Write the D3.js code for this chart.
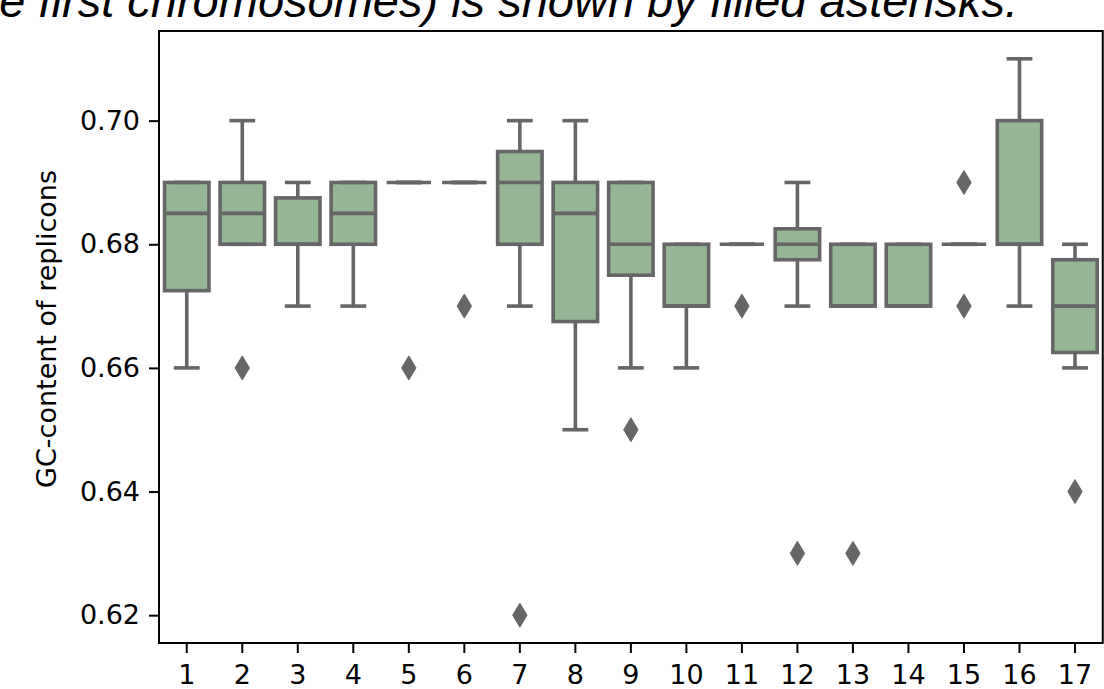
<!DOCTYPE html>
<html><head><meta charset="utf-8">
<script src="https://cdn.jsdelivr.net/npm/d3@7"></script>
<style>body{margin:0;background:#fff}svg{display:block}</style>
</head><body>
<script>
const categories = ["1","2","3","4","5","6","7","8","9","10","11","12","13","14","15","16","17"];
const whiskerLow  = [0.66, 0.68, 0.67, 0.67, 0.69, 0.69, 0.67, 0.65, 0.66, 0.66, 0.68, 0.67, 0.67, 0.67, 0.68, 0.67, 0.66];
const q1          = [0.6725,0.68, 0.68, 0.68, 0.69, 0.69, 0.68, 0.6675,0.675,0.67, 0.68, 0.6775,0.67,0.67, 0.68, 0.68, 0.6625];
const medians     = [0.685, 0.685,0.68, 0.685,0.69, 0.69, 0.69, 0.685, 0.68, 0.67, 0.68, 0.68, 0.67, 0.67, 0.68, 0.68, 0.67];
const q3          = [0.69,  0.69, 0.6875,0.69,0.69, 0.69, 0.695,0.69,  0.69, 0.68, 0.68, 0.6825,0.68,0.68, 0.68, 0.70, 0.6775];
const whiskerHigh = [0.69,  0.70, 0.69, 0.69, 0.69, 0.69, 0.70, 0.70,  0.69, 0.68, 0.68, 0.69, 0.68, 0.68, 0.68, 0.71, 0.68];
const outliers    = [[], [0.66], [], [], [0.66], [0.67], [0.62], [], [0.65], [], [0.67], [0.63], [0.63], [], [0.69,0.67], [], [0.64]];
const yTicks = [0.62, 0.64, 0.66, 0.68, 0.70];
const yLabel = "GC-content of replicons";
const titleText = "e first chromosomes) is shown by filled asterisks.";

const W = 1104, H = 689;
const mLeft = 159, mRight = 1102.75, mTop = 31, mBottom = 643;
const svg = d3.select("body").append("svg").attr("width", W).attr("height", H);

const x = d3.scaleBand().domain(categories).range([mLeft, mRight]).padding(0);
const y = d3.scaleLinear().domain([0.6155, 0.7145]).range([mBottom, mTop]);

const lineCol = "#666666", fillCol = "#95b695", sw = 3.6;
const bw = x.bandwidth() * 0.8;

const data = categories.map((c, i) => ({c, lo: whiskerLow[i], q1: q1[i], med: medians[i], q3: q3[i], hi: whiskerHigh[i], out: outliers[i]}));
const g = svg.append("g");
data.forEach(d => {
  const cx = x(d.c) + x.bandwidth() / 2;
  g.append("rect").attr("x", cx - bw/2).attr("y", y(d.q3)).attr("width", bw).attr("height", Math.max(0, y(d.q1) - y(d.q3)))
    .attr("fill", fillCol).attr("stroke", lineCol).attr("stroke-width", sw);
  if (d.lo < d.q1) g.append("line").attr("x1", cx).attr("x2", cx).attr("y1", y(d.q1)).attr("y2", y(d.lo)).attr("stroke", lineCol).attr("stroke-width", sw);
  if (d.hi > d.q3) g.append("line").attr("x1", cx).attr("x2", cx).attr("y1", y(d.q3)).attr("y2", y(d.hi)).attr("stroke", lineCol).attr("stroke-width", sw);
  [d.lo, d.hi].forEach(v => g.append("line").attr("x1", cx - bw/4).attr("x2", cx + bw/4).attr("y1", y(v)).attr("y2", y(v))
    .attr("stroke", lineCol).attr("stroke-width", sw).attr("stroke-linecap", "square"));
  g.append("line").attr("x1", cx - bw/2).attr("x2", cx + bw/2).attr("y1", y(d.med)).attr("y2", y(d.med)).attr("stroke", lineCol).attr("stroke-width", sw);
  d.out.forEach(v => {
    const py = y(v), hh = 12, hw = 7.2;
    g.append("path").attr("d", `M${cx},${py-hh}L${cx+hw},${py}L${cx},${py+hh}L${cx-hw},${py}Z`).attr("fill", lineCol).attr("stroke", lineCol).attr("stroke-width", 1);
  });
});

const yAxis = d3.axisLeft(y).tickValues(yTicks).tickFormat(d3.format(".2f")).tickSize(10).tickPadding(9);
const xAxis = d3.axisBottom(x).tickSize(10).tickPadding(12);
const ya = svg.append("g").attr("transform", `translate(${mLeft},0)`).call(yAxis);
const xa = svg.append("g").attr("transform", `translate(0,${mBottom})`).call(xAxis);
[ya, xa].forEach(a => {
  a.select(".domain").remove();
  a.selectAll(".tick line").attr("stroke", "#000").attr("stroke-width", 2);
  a.selectAll(".tick text").attr("fill", "#000").style("font-family", "DejaVu Sans").style("font-size", "27px");
});
svg.append("rect").attr("x", mLeft).attr("y", mTop).attr("width", mRight - mLeft).attr("height", mBottom - mTop)
  .attr("fill", "none").attr("stroke", "#000").attr("stroke-width", 2);

svg.append("text").attr("transform", `translate(56,329) rotate(-90)`).attr("text-anchor", "middle")
  .style("font-family", "DejaVu Sans").style("font-size", "27px").attr("fill", "#000").text(yLabel);

svg.append("text").attr("x", 1018).attr("y", 17).attr("text-anchor", "end")
  .style("font-family", "Liberation Sans, Arial").style("font-style", "italic").style("font-size", "47px").attr("fill", "#000").text(titleText);
</script>
</body></html>
